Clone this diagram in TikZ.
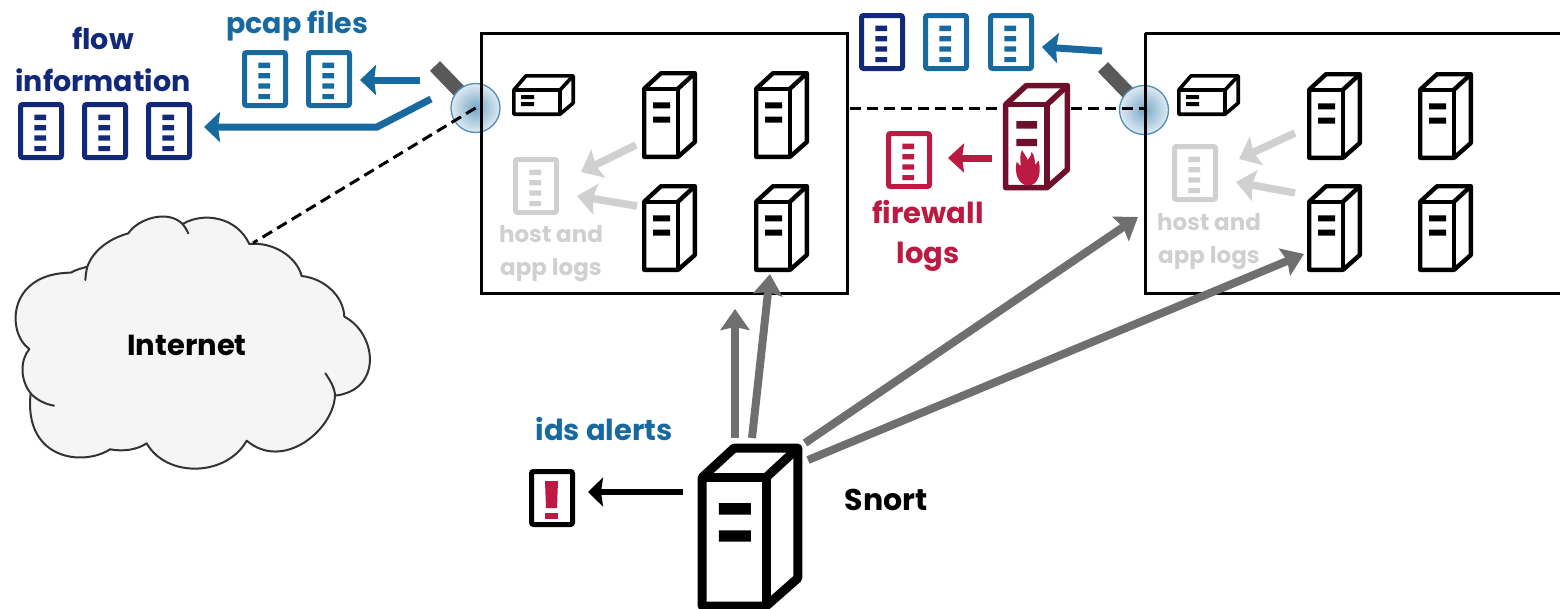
\documentclass[tikz,border=0pt]{standalone}
\usepackage{fontspec}
\setmainfont{Poppins}
\usetikzlibrary{arrows.meta}
\definecolor{navyc}{HTML}{12297A}
\definecolor{bluec}{HTML}{17699F}
\definecolor{redc}{HTML}{BC1A42}
\definecolor{maroonc}{HTML}{6E0F2C}
\definecolor{lightg}{HTML}{D0D0D0}
\definecolor{darkg}{HTML}{6F6F6F}
\tikzset{
  lbl/.style={font=\bfseries\fontsize{#1}{#1}\selectfont,inner sep=0pt,anchor=center},
  lbl/.default=29,
  graya/.style={-{Stealth[length=21pt,width=29pt,inset=3pt]},line width=8pt,draw=darkg},
  bluea/.style={-{Stealth[length=16pt,width=30pt,inset=2pt]},line width=7pt,draw=bluec,line join=miter},
  reda/.style={-{Stealth[length=16pt,width=29pt,inset=2pt]},line width=7pt,draw=redc},
  blacka/.style={-{Stealth[length=15pt,width=29pt,inset=2pt]},line width=6.5pt,draw=black},
  ligha/.style={-{Stealth[length=19pt,width=31pt,inset=3pt]},line width=7.5pt,draw=lightg},
  boxs/.style={draw=black,line width=3pt},
  wire/.style={draw=black,line width=3pt,dash pattern=on 11pt off 6pt},
  rod/.style={draw=black!65,line width=14pt},
  tap/.style={draw=bluec!75,line width=1.3pt,inner color=bluec!58,outer color=bluec!14},
}
\newcommand{\srv}[5]{% x y scale lw colour
  \begin{scope}[shift={(#1,#2)},x=#3pt,y=-#3pt,line join=round,line width=#4pt,draw=#5]
    \filldraw[fill=white,draw=#5] (2.2,17.7)--(19,2.2)--(52.8,2.2)--(52.8,71)--(36,85.8)--(2.2,85.8)--cycle;
    \draw[#5] (2.2,17.7)--(36,17.7)--(36,85.8);
    \draw[#5] (36,17.7)--(52.8,2.2);
    \fill[#5] (11,31.3) rectangle (28,37.3) (11,45.7) rectangle (28,51.7);
  \end{scope}}
\newcommand{\dev}[2]{% x y
  \begin{scope}[shift={(#1,#2)},line join=round,line width=3.6pt]
    \filldraw[fill=white,draw=black] (1.8,16)--(14,1.8)--(61.2,1.8)--(61.2,29)--(48,40.2)--(1.8,40.2)--cycle;
    \draw (1.8,16)--(48,16)--(48,40.2) (48,16)--(61.2,1.8);
    \fill (9,21) rectangle (22,25) (9,28) rectangle (22,32);
  \end{scope}}
\newcommand{\docu}[3]{% x y colour
  \begin{scope}[shift={(#1,#2)}]
    \draw[#3,line width=5pt,rounded corners=2pt,fill=white] (2.5,2.5) rectangle (43.5,55.5);
    \fill[#3] (16.3,12.5) rectangle (28,18) (16.3,23) rectangle (28,28.3) (16.3,33.3) rectangle (28,38.5) (16.3,44) rectangle (28,49);
  \end{scope}}
\begin{document}
\begin{tikzpicture}[x=1pt,y=-1pt]
\useasboundingbox (0,0) rectangle (1560,608);
% named end points
\coordinate (tapL) at (475.5,108);
\coordinate (tapR) at (1144,110);
\coordinate (rodLa) at (435,66);
\coordinate (rodLb) at (462,94);
\coordinate (rodRa) at (1103,67);
\coordinate (rodRb) at (1130,95);
\coordinate (cloudEdge) at (253,243);
\coordinate (wireA) at (850,108);
\coordinate (wireB) at (1144,108);
\coordinate (pcapFrom) at (420,80);
\coordinate (pcapTo) at (360,80);
\coordinate (flowFrom) at (431,99);
\coordinate (flowBend) at (377,127);
\coordinate (flowTo) at (204,127);
\coordinate (midFrom) at (1102,51);
\coordinate (midTo) at (1042,47);
\coordinate (fwFrom) at (992,158);
\coordinate (fwTo) at (948,158);
\coordinate (idsFrom) at (683,492);
\coordinate (idsTo) at (588,492);
\coordinate (sn1) at (735,438);
\coordinate (sv1) at (735,309);
\coordinate (sn2) at (752,438);
\coordinate (sv2) at (770,274);
\coordinate (sn3) at (805,443);
\coordinate (sv3) at (1138,217);
\coordinate (sn4) at (808,460);
\coordinate (sv4) at (1304,254);
\coordinate (hL1) at (636,145);
\coordinate (hL1t) at (581,172);
\coordinate (hL2) at (637,206);
\coordinate (hL2t) at (577,196);
\coordinate (hR1) at (1295,133);
\coordinate (hR1t) at (1239,159);
\coordinate (hR2) at (1295,193);
\coordinate (hR2t) at (1236,182);
% cloud
\begin{scope}[x=.33333pt,y=-.33333pt,yshift=-200pt]
\filldraw[fill=black!4,draw=black!80,line width=2pt,line join=round]
 (262,200) .. controls (280,150) and (330,115) .. (385,100)
 .. controls (410,60) and (500,25) .. (548,72)
 .. controls (610,35) and (710,50) .. (748,132)
 .. controls (820,125) and (890,170) .. (905,228)
 .. controls (970,235) and (1030,285) .. (1033,350)
 .. controls (1130,400) and (1150,570) .. (1005,587)
 .. controls (1000,690) and (850,815) .. (740,722)
 .. controls (680,830) and (500,835) .. (440,730)
 .. controls (410,750) and (370,755) .. (330,748)
 .. controls (250,800) and (70,780) .. (92,580)
 .. controls (60,540) and (60,480) .. (88,447)
 .. controls (20,400) and (20,220) .. (212,218)
 .. controls (230,208) and (245,205) .. (262,200) -- cycle;
\draw[draw=black!80,line width=2pt,line cap=round]
 (548,72) .. controls (555,80) and (560,90) .. (565,100)
 (262,200) .. controls (258,215) and (257,228) .. (256,240)
 (92,580) .. controls (110,600) and (135,612) .. (162,617)
 (1005,587) .. controls (1005,565) and (990,540) .. (976,520);
\end{scope}
\node[lbl] (internet) at (187,345) {Internet};
% wires behind boxes
\draw[rod] (rodLa) -- (rodLb);
\draw[rod] (rodRa) -- (rodRb);
\shade[tap] (tapL) circle[radius=24.5pt];
\shade[tap] (tapR) circle[radius=24.5pt];
\draw[boxs] (481,33) rectangle (847,293);
\draw[boxs] (1145,33) -- (1565,33) (1145,33) -- (1145,293) -- (1565,293);
\draw[wire] (tapL) -- (cloudEdge);
\draw[wire] (wireA) -- (wireB);
% left site
\dev{512}{74}
\srv{642}{71}{1}{4.4}{black}
\srv{754}{71}{1}{4.4}{black}
\srv{642}{184}{1}{4.4}{black}
\srv{754}{184}{1}{4.4}{black}
\docu{513}{157}{lightg}
% right site
\dev{1177}{74}
\srv{1307}{72}{1}{4.4}{black}
\srv{1418}{72}{1}{4.4}{black}
\srv{1307}{184}{1}{4.4}{black}
\srv{1418}{184}{1}{4.4}{black}
\docu{1172}{144}{lightg}
% firewall
\srv{1003}{83}{1.22}{5.6}{maroonc}
\begin{scope}[x=.33333pt,y=-.33333pt,xshift=850pt]
\fill[redc] (535,557) .. controls (505,555) and (492,520) .. (500,485)
 .. controls (505,490) and (508,495) .. (512,498)
 .. controls (512,480) and (508,465) .. (516,450)
 .. controls (522,462) and (530,470) .. (533,480)
 .. controls (540,472) and (545,465) .. (545,455)
 .. controls (555,470) and (555,485) .. (555,495)
 .. controls (560,490) and (563,487) .. (566,482)
 .. controls (575,520) and (565,555) .. (535,557) -- cycle;
\end{scope}
% Snort
\srv{698}{444}{1.89}{9}{black}
% documents
\docu{242}{50}{bluec}
\docu{306}{50}{bluec}
\docu{18}{102}{navyc}
\docu{82}{102}{navyc}
\docu{146}{102}{navyc}
\docu{859}{13}{navyc}
\docu{923}{13}{bluec}
\docu{988}{13}{bluec}
\docu{886}{131}{redc}
\begin{scope}[shift={(529,469)}]
\draw[black,line width=5pt,rounded corners=2pt,fill=white] (2.5,2.5) rectangle (43.5,55.5);
\fill[redc] (16,12) -- (29,12) -- (28,39) -- (17,39) -- cycle;
\fill[redc] (16,44) rectangle (29,49.5);
\end{scope}
% arrows
\draw[bluea] (pcapFrom) -- (pcapTo);
\draw[bluea] (flowFrom) -- (flowBend) -- (flowTo);
\draw[bluea] (midFrom) -- (midTo);
\draw[reda] (fwFrom) -- (fwTo);
\draw[blacka] (idsFrom) -- (idsTo);
\draw[ligha] (hL1) -- (hL1t);
\draw[ligha] (hL2) -- (hL2t);
\draw[ligha] (hR1) -- (hR1t);
\draw[ligha] (hR2) -- (hR2t);
\draw[graya] (sn1) -- (sv1);
\draw[graya] (sn2) -- (sv2);
\draw[graya] (sn3) -- (sv3);
\draw[graya] (sn4) -- (sv4);
% labels
\node[lbl=28.5,text=navyc] (t1) at (103,38) {flow};
\node[lbl=28.5,text=navyc] (t2) at (103,80) {information};
\node[lbl=28.5,text=bluec] (t3) at (297,26) {pcap files};
\node[lbl,text=redc] (t4) at (928,212) {firewall};
\node[lbl,text=redc] (t5) at (928,257) {logs};
\node[lbl=23,text=lightg] (t6) at (551,234) {host and};
\node[lbl=23,text=lightg] (t7) at (551,270) {app logs};
\node[lbl=23,text=lightg] (t8) at (1209,222) {host and};
\node[lbl=23,text=lightg] (t9) at (1209,258) {app logs};
\node[lbl,text=bluec] (t10) at (604,429) {ids alerts};
\node[lbl=30] (t11) at (886,500) {Snort};
\end{tikzpicture}
\end{document}
